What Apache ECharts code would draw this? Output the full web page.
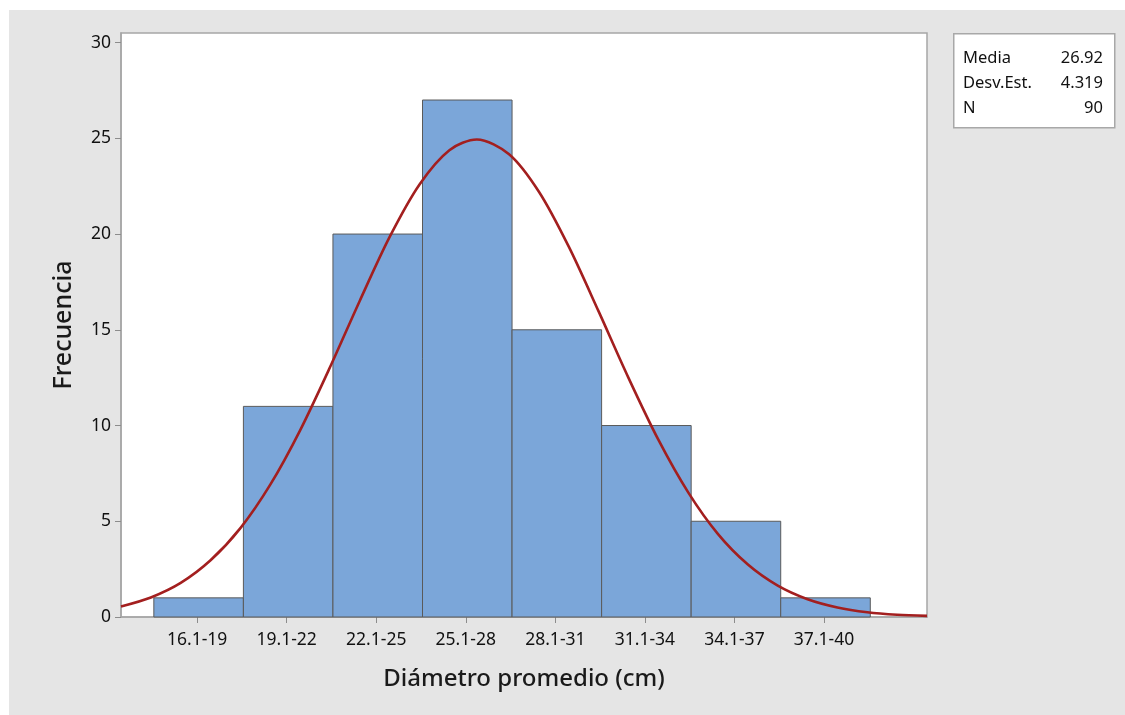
<!DOCTYPE html>
<html>
<head>
<meta charset="utf-8">
<script src="https://cdn.jsdelivr.net/npm/echarts@6/dist/echarts.min.js"></script>
<style>
  html, body { margin: 0; padding: 0; background: #ffffff; }
  #chart { position: absolute; left: 9px; top: 10px; width: 1116px; height: 705px; }
</style>
</head>
<body>
<div id="chart"></div>
<script>
// ---- data ----
const binLabels = ['16.1-19', '19.1-22', '22.1-25', '25.1-28', '28.1-31', '31.1-34', '34.1-37', '37.1-40'];
const binStart  = [16.1, 19.1, 22.1, 25.1, 28.1, 31.1, 34.1, 37.1];
const binEnd    = [19.1, 22.1, 25.1, 28.1, 31.1, 34.1, 37.1, 40.1];
const counts    = [1, 11, 20, 27, 15, 10, 5, 1];
const tickCenters = [17.55, 20.55, 23.55, 26.55, 29.55, 32.55, 35.55, 38.55];
const yTicks = [0, 5, 10, 15, 20, 25, 30];
// fitted normal curve
const curveX = [15, 16, 17, 18, 19, 20, 21, 22, 23, 24, 25, 26, 26.92, 28, 29, 30, 31, 32, 33, 34, 35, 36, 37, 38, 39, 40, 41, 42];
const curveY = [0.55, 1.02, 1.78, 2.96, 4.64, 6.91, 9.75, 13.04, 16.52, 19.85, 22.59, 24.38, 24.94, 24.17, 22.21, 19.34, 15.96, 12.49, 9.26, 6.51, 4.33, 2.74, 1.64, 0.93, 0.50, 0.25, 0.12, 0.06];
const statNames  = ['Media', 'Desv.Est.', 'N'];
const statValues = ['26.92', '4.319', '90'];

const FONT = 'Noto Sans';
const barData = binStart.map((s, i) => [s, binEnd[i], counts[i]]);
const curveData = curveX.map((x, i) => [x, curveY[i]]);

const chart = echarts.init(document.getElementById('chart'));

const statGraphics = [{
  type: 'rect', left: 944, top: 23,
  shape: { width: 161, height: 94 },
  style: { fill: '#ffffff', stroke: '#a8a8a8', lineWidth: 1.5 }
}];
statNames.forEach((n, i) => {
  statGraphics.push({ type: 'text', x: 954, y: 48 + i * 25,
    style: { text: n, font: '16.5px "' + FONT + '"', fill: '#111111', textAlign: 'left', textVerticalAlign: 'middle' } });
  statGraphics.push({ type: 'text', x: 1094, y: 48 + i * 25,
    style: { text: statValues[i], font: '16.5px "' + FONT + '"', fill: '#111111', textAlign: 'right', textVerticalAlign: 'middle' } });
});

chart.setOption({
  backgroundColor: '#e5e5e5',
  animation: false,
  grid: { left: 112, top: 23, right: 198, bottom: 98, show: true, backgroundColor: '#ffffff', borderColor: '#a6a6a6', borderWidth: 1.5 },
  xAxis: {
    type: 'value', min: 15, max: 42,
    name: 'Diámetro promedio (cm)', nameLocation: 'middle', nameGap: 50,
    nameTextStyle: { fontFamily: FONT, fontSize: 24, fontWeight: 500, color: '#1a1a1a' },
    axisLine: { show: true, lineStyle: { color: '#a6a6a6', width: 1.5 } },
    axisTick: { show: true, length: 6, customValues: tickCenters, lineStyle: { color: '#8c8c8c' } },
    axisLabel: { customValues: tickCenters, margin: 14, fontFamily: FONT, fontSize: 17.5, color: '#111111',
      formatter: (v) => { let k = 0; tickCenters.forEach((c, i) => { if (Math.abs(c - v) < Math.abs(tickCenters[k] - v)) k = i; }); return binLabels[k]; } },
    splitLine: { show: false }
  },
  yAxis: {
    type: 'value', min: 0, max: 30.5,
    name: 'Frecuencia', nameLocation: 'middle', nameGap: 45,
    nameTextStyle: { fontFamily: FONT, fontSize: 25, fontWeight: 500, color: '#1a1a1a' },
    axisLine: { show: true, lineStyle: { color: '#a6a6a6', width: 1.5 } },
    axisTick: { show: true, length: 6, customValues: yTicks, lineStyle: { color: '#8c8c8c' } },
    axisLabel: { customValues: yTicks, margin: 10, fontFamily: FONT, fontSize: 17.5, color: '#111111' },
    splitLine: { show: false }
  },
  series: [{
    type: 'custom',
    data: barData,
    encode: { x: [0, 1], y: 2 },
    renderItem: (params, api) => {
      const p0 = api.coord([api.value(0), api.value(2)]);
      const p1 = api.coord([api.value(1), 0]);
      return { type: 'rect',
        shape: { x: p0[0], y: p0[1], width: p1[0] - p0[0], height: p1[1] - p0[1] },
        style: { fill: '#7ba6d9', stroke: '#5a5a5a', lineWidth: 1 } };
    },
    z: 2
  }, {
    type: 'line',
    data: curveData,
    smooth: 0.3,
    showSymbol: false,
    clip: true,
    lineStyle: { color: '#a31f1f', width: 2.6 },
    z: 3
  }],
  graphic: statGraphics
});
</script>
</body>
</html>
